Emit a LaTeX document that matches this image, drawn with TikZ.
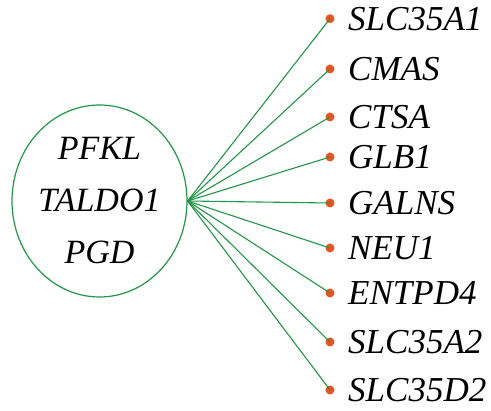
\documentclass[tikz,border=0pt]{standalone}
\usepackage{fontspec}
\setmainfont{Liberation Serif}
\usetikzlibrary{shapes.geometric}
\definecolor{linkgreen}{RGB}{34,150,70}
\definecolor{dotred}{RGB}{232,84,34}
\tikzset{
	hub/.style={draw=linkgreen, ellipse, line width=1.2pt, minimum width=175pt, minimum height=192pt, inner sep=0pt, align=center, font=\fontsize{34}{52}\selectfont\itshape},
	gene/.style={anchor=base west, inner sep=0pt, font=\fontsize{35}{40}\selectfont\itshape},
	genedot/.style={circle, fill=dotred, inner sep=0pt, minimum size=9pt},
	link/.style={draw=linkgreen, line width=1.1pt}
}
\begin{document}
\begin{tikzpicture}[x=1pt, y=-1pt]
		%%%%% START %%%%%
		\useasboundingbox (0, 0) rectangle (491, 411);
		
		\node[hub] (enz) at (99.5, 201) {PFKL\\TALDO1\\PGD};
		
		\foreach \name/\ypos [count=\i] in {SLC35A1/18.7, CMAS/69, CTSA/117, GLB1/157, GALNS/203, NEU1/248, ENTPD4/293, SLC35A2/342, SLC35D2/390}{
			\node[genedot] (d\i) at (330, \ypos) {};
			\draw[link] (enz.east) -- (d\i.center);
			\node[gene] (g\i) at (348, \ypos+12) {\name};
		}
		%%%%% END %%%%%
	\end{tikzpicture}
\end{document}
